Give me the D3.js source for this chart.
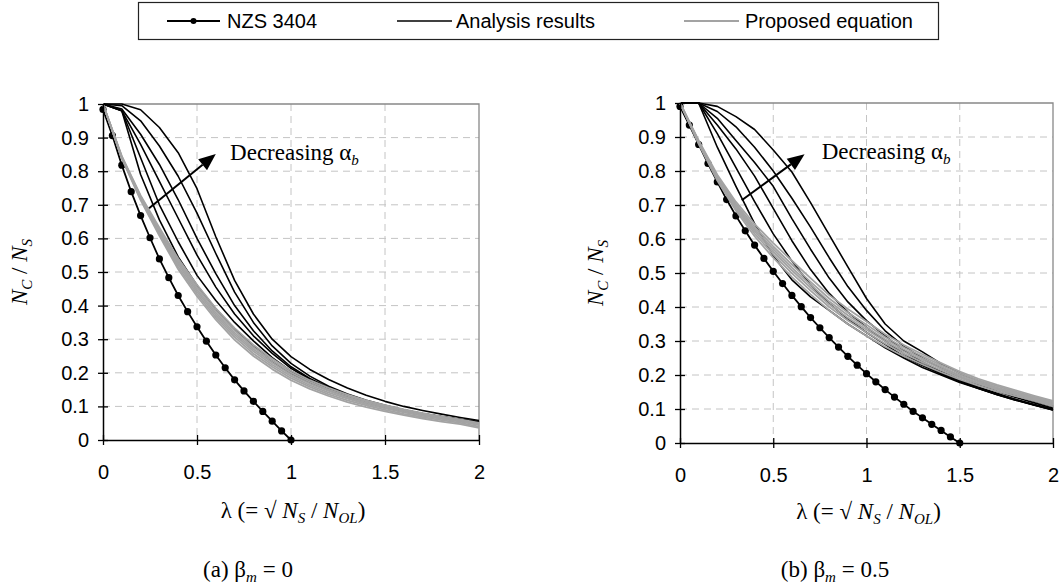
<!DOCTYPE html>
<html><head><meta charset="utf-8">
<script src="https://cdn.jsdelivr.net/npm/d3@7/dist/d3.min.js"></script>
<style>body{margin:0;background:#fff;}</style>
</head><body>
<svg id="chart" width="1063" height="584"></svg>
<script>
// ---------------- DATA ----------------
const lambdaGrid = [0,0.1,0.2,0.3,0.4,0.5,0.6,0.7,0.8,0.9,1.0,1.1,1.2,1.3,1.4,1.5,1.6,1.7,1.8,1.9,2.0];

// (a) beta_m = 0
const nzsLambdaA = [0,0.05,0.1,0.15,0.2,0.25,0.3,0.35,0.4,0.45,0.5,0.55,0.6,0.65,0.7,0.75,0.8,0.85,0.9,0.95,1.0];
const nzsValuesA = [0.984,0.906,0.818,0.739,0.668,0.602,0.539,0.483,0.430,0.382,0.337,0.294,0.253,0.215,0.179,0.146,0.115,0.085,0.056,0.027,0];
const analysisA1 = [1,0.98,0.79,0.655,0.545,0.46,0.39,0.33,0.28,0.235,0.198,0.17,0.148,0.128,0.112,0.098,0.087,0.077,0.068,0.06,0.052];
const analysisA2 = [1,0.98,0.84,0.70,0.59,0.49,0.415,0.35,0.295,0.245,0.205,0.176,0.151,0.131,0.114,0.1,0.088,0.078,0.069,0.061,0.053];
const analysisA3 = [1,0.98,0.88,0.77,0.66,0.55,0.455,0.375,0.31,0.258,0.213,0.18,0.153,0.132,0.115,0.1,0.088,0.078,0.069,0.061,0.053];
const analysisA4 = [1,0.985,0.91,0.82,0.715,0.60,0.495,0.40,0.325,0.265,0.218,0.183,0.156,0.134,0.116,0.101,0.089,0.078,0.069,0.061,0.054];
const analysisA5 = [1,0.995,0.95,0.875,0.785,0.675,0.555,0.44,0.35,0.28,0.228,0.19,0.16,0.137,0.118,0.103,0.09,0.079,0.07,0.062,0.055];
const analysisA6 = [1,1,0.983,0.93,0.855,0.748,0.605,0.475,0.375,0.30,0.248,0.21,0.18,0.155,0.133,0.115,0.1,0.088,0.077,0.067,0.058];
const proposedA1 = [1,0.838,0.714,0.608,0.508,0.428,0.358,0.298,0.250,0.211,0.178,0.152,0.131,0.113,0.098,0.085,0.074,0.064,0.055,0.047,0.036];
const proposedA2 = [1,0.840,0.717,0.613,0.515,0.435,0.365,0.306,0.257,0.218,0.184,0.158,0.136,0.118,0.103,0.090,0.078,0.068,0.059,0.051,0.040];
const proposedA3 = [1,0.841,0.720,0.618,0.522,0.442,0.372,0.313,0.264,0.224,0.190,0.163,0.141,0.123,0.107,0.094,0.082,0.072,0.063,0.055,0.044];
const proposedA4 = [1,0.842,0.722,0.622,0.528,0.448,0.378,0.319,0.270,0.230,0.195,0.168,0.146,0.127,0.111,0.098,0.086,0.075,0.066,0.057,0.047];
const proposedA5 = [1,0.843,0.725,0.627,0.534,0.455,0.385,0.326,0.276,0.236,0.200,0.173,0.150,0.131,0.115,0.101,0.089,0.078,0.068,0.059,0.049];
const proposedA6 = [1,0.845,0.728,0.632,0.540,0.462,0.392,0.333,0.283,0.242,0.206,0.178,0.155,0.135,0.118,0.104,0.091,0.080,0.070,0.061,0.051];

// (b) beta_m = 0.5
const nzsLambdaB = [0,0.05,0.1,0.15,0.2,0.25,0.3,0.35,0.4,0.45,0.5,0.55,0.6,0.65,0.7,0.75,0.8,0.85,0.9,0.95,1.0,1.05,1.1,1.15,1.2,1.25,1.3,1.35,1.4,1.45,1.5];
const nzsValuesB = [0.99,0.935,0.878,0.822,0.768,0.716,0.668,0.624,0.582,0.543,0.505,0.469,0.434,0.401,0.369,0.339,0.310,0.282,0.255,0.229,0.204,0.180,0.157,0.135,0.114,0.093,0.074,0.055,0.037,0.018,0];
const analysisB1 = [1,1,0.87,0.755,0.645,0.55,0.48,0.43,0.39,0.35,0.315,0.28,0.25,0.222,0.20,0.178,0.16,0.143,0.128,0.113,0.10];
const analysisB2 = [1,1,0.91,0.81,0.71,0.615,0.535,0.465,0.41,0.365,0.325,0.29,0.255,0.228,0.203,0.18,0.16,0.142,0.126,0.112,0.098];
const analysisB3 = [1,1,0.935,0.865,0.785,0.69,0.595,0.51,0.44,0.385,0.34,0.30,0.262,0.232,0.206,0.183,0.162,0.143,0.126,0.111,0.097];
const analysisB4 = [1,1,0.955,0.89,0.825,0.755,0.66,0.57,0.485,0.415,0.36,0.315,0.272,0.238,0.21,0.186,0.165,0.146,0.128,0.112,0.097];
const analysisB5 = [1,1,0.975,0.93,0.87,0.80,0.72,0.635,0.545,0.46,0.39,0.33,0.285,0.25,0.22,0.195,0.172,0.152,0.134,0.118,0.102];
const analysisB6 = [1,1,0.99,0.96,0.922,0.862,0.797,0.707,0.612,0.518,0.425,0.35,0.30,0.268,0.233,0.205,0.182,0.16,0.14,0.123,0.107];
const proposedB1 = [1,0.880,0.772,0.683,0.608,0.545,0.488,0.437,0.390,0.350,0.315,0.283,0.255,0.231,0.208,0.187,0.169,0.152,0.138,0.124,0.108];
const proposedB2 = [1,0.882,0.776,0.689,0.616,0.555,0.499,0.448,0.400,0.360,0.325,0.292,0.263,0.238,0.214,0.192,0.174,0.157,0.142,0.127,0.112];
const proposedB3 = [1,0.884,0.779,0.694,0.623,0.563,0.508,0.457,0.408,0.368,0.333,0.299,0.269,0.244,0.219,0.196,0.177,0.160,0.145,0.130,0.115];
const proposedB4 = [1,0.886,0.782,0.698,0.629,0.570,0.516,0.465,0.416,0.376,0.340,0.305,0.275,0.249,0.224,0.200,0.181,0.163,0.148,0.133,0.118];
const proposedB5 = [1,0.888,0.785,0.703,0.636,0.578,0.525,0.474,0.425,0.384,0.348,0.312,0.281,0.255,0.229,0.205,0.185,0.167,0.151,0.136,0.121];
const proposedB6 = [1,0.890,0.789,0.709,0.644,0.588,0.536,0.485,0.435,0.394,0.357,0.320,0.288,0.261,0.235,0.210,0.189,0.171,0.155,0.139,0.124];

const xTickValues = [0,0.5,1,1.5,2];
const xTickLabels = ["0","0.5","1","1.5","2"];
const yTickValues = [0,0.1,0.2,0.3,0.4,0.5,0.6,0.7,0.8,0.9,1];
const yTickLabels = ["0","0.1","0.2","0.3","0.4","0.5","0.6","0.7","0.8","0.9","1"];
const legendLabels = ["NZS 3404","Analysis results","Proposed equation"];

// ---------------- DRAW ----------------
const SANS = "'Liberation Sans', Arial, sans-serif";
const SERIF = "'Liberation Serif', 'Times New Roman', serif";
const svg = d3.select("#chart");
svg.append("rect").attr("width",1063).attr("height",584).attr("fill","#fff");

const panels = [
  {left:103, right:479, top:104, bottom:440,
   nzsL:nzsLambdaA, nzsV:nzsValuesA,
   analysis:[analysisA1,analysisA2,analysisA3,analysisA4,analysisA5,analysisA6],
   proposed:[proposedA1,proposedA2,proposedA3,proposedA4,proposedA5,proposedA6],
   yTitleX:27, xTitleY:518, capX:248, capLetter:"(a) β", capVal:" = 0",
   arrowFrom:[0.245,0.69], arrowTo:[0.6,0.851], annoAt:[0.676,0.833]},
  {left:680, right:1053, top:103, bottom:443,
   nzsL:nzsLambdaB, nzsV:nzsValuesB,
   analysis:[analysisB1,analysisB2,analysisB3,analysisB4,analysisB5,analysisB6],
   proposed:[proposedB1,proposedB2,proposedB3,proposedB4,proposedB5,proposedB6],
   yTitleX:603, xTitleY:519, capX:835, capLetter:"(b) β", capVal:" = 0.5",
   arrowFrom:[0.331,0.714], arrowTo:[0.668,0.849], annoAt:[0.76,0.834]}
];

panels.forEach(p => {
  const g = svg.append("g");
  const x = d3.scaleLinear().domain([0,2]).range([p.left,p.right]);
  const y = d3.scaleLinear().domain([0,1]).range([p.bottom,p.top]);

  g.selectAll(".hg").data(yTickValues.filter(v => v>0 && v<1)).join("line")
    .attr("x1",p.left).attr("x2",p.right).attr("y1",d=>y(d)).attr("y2",d=>y(d))
    .attr("stroke","#c4c4c4").attr("stroke-width",1).attr("stroke-dasharray","7,5");
  g.selectAll(".vg").data(xTickValues.filter(v => v>0 && v<2)).join("line")
    .attr("y1",p.top).attr("y2",p.bottom).attr("x1",d=>x(d)).attr("x2",d=>x(d))
    .attr("stroke","#c4c4c4").attr("stroke-width",1).attr("stroke-dasharray","7,5");
  g.append("path").attr("d",`M${p.left},${y(1)}H${p.right}V${p.bottom}`)
    .attr("fill","none").attr("stroke","#888").attr("stroke-width",1.3);

  const line = d3.line().x(d=>x(d[0])).y(d=>y(d[1]));
  const nzs = p.nzsL.map((l,i)=>[l,p.nzsV[i]]);
  g.append("path").attr("d",line(nzs)).attr("fill","none").attr("stroke","#000").attr("stroke-width",1.8);
  g.selectAll(".dot").data(nzs).join("circle").attr("cx",d=>x(d[0])).attr("cy",d=>y(d[1]))
    .attr("r",3.6).attr("fill","#000");
  p.analysis.forEach(arr => {
    g.append("path").attr("d",line(lambdaGrid.map((l,i)=>[l,arr[i]])))
      .attr("fill","none").attr("stroke","#000").attr("stroke-width",1.6).attr("stroke-linejoin","round");
  });
  p.proposed.forEach(arr => {
    g.append("path").attr("d",line(lambdaGrid.map((l,i)=>[l,arr[i]])))
      .attr("fill","none").attr("stroke","#a3a3a3").attr("stroke-width",1.8).attr("stroke-linejoin","round");
  });

  const ya = d3.axisLeft(y).tickValues(yTickValues).tickFormat((d,i)=>yTickLabels[i])
    .tickSizeInner(5).tickSizeOuter(0).tickPadding(9);
  const gy = g.append("g").attr("transform",`translate(${p.left},0)`).call(ya);
  gy.selectAll(".tick line").attr("x1",5).attr("stroke","#000").attr("stroke-width",1.3);
  gy.select(".domain").attr("stroke","#000").attr("stroke-width",1.5);
  gy.selectAll("text").attr("font-family",SANS).attr("font-size",20).attr("fill","#000");

  const xa = d3.axisBottom(x).tickValues(xTickValues).tickFormat((d,i)=>xTickLabels[i])
    .tickSizeInner(5).tickSizeOuter(0).tickPadding(20);
  const gx = g.append("g").attr("transform",`translate(0,${p.bottom})`).call(xa);
  gx.selectAll(".tick line").attr("y1",-5).attr("stroke","#000").attr("stroke-width",1.3);
  gx.select(".domain").attr("stroke","#000").attr("stroke-width",1.5);
  gx.selectAll("text").attr("font-family",SANS).attr("font-size",20).attr("fill","#000");

  const yt = g.append("text").attr("transform",`translate(${p.yTitleX},${(p.top+p.bottom)/2}) rotate(-90)`)
    .attr("text-anchor","middle").attr("font-family",SERIF).attr("font-size",23);
  yt.append("tspan").attr("font-style","italic").text("N");
  yt.append("tspan").attr("font-style","italic").attr("font-size",15).attr("dy",5).text("C");
  yt.append("tspan").attr("dy",-5).text(" / ");
  yt.append("tspan").attr("font-style","italic").text("N");
  yt.append("tspan").attr("font-style","italic").attr("font-size",15).attr("dy",5).text("S");

  const xt = g.append("text").attr("x",x(1)+2).attr("y",p.xTitleY)
    .attr("text-anchor","middle").attr("font-family",SERIF).attr("font-size",23);
  xt.append("tspan").text("λ (= √ ");
  xt.append("tspan").attr("font-style","italic").text("N");
  xt.append("tspan").attr("font-style","italic").attr("font-size",15).attr("dy",5).text("S");
  xt.append("tspan").attr("dy",-5).text(" / ");
  xt.append("tspan").attr("font-style","italic").text("N");
  xt.append("tspan").attr("font-style","italic").attr("font-size",15).attr("dy",5).text("OL");
  xt.append("tspan").attr("dy",-5).text(")");

  const cp = g.append("text").attr("x",p.capX).attr("y",577)
    .attr("text-anchor","middle").attr("font-family",SERIF).attr("font-size",23);
  cp.append("tspan").text(p.capLetter);
  cp.append("tspan").attr("font-style","italic").attr("font-size",15).attr("dy",5).text("m");
  cp.append("tspan").attr("dy",-5).text(p.capVal);

  const x0 = x(p.arrowFrom[0]), y0 = y(p.arrowFrom[1]);
  const x1 = x(p.arrowTo[0]), y1 = y(p.arrowTo[1]);
  const ang = Math.atan2(y1-y0, x1-x0);
  const hl = 17, hw = 7;
  const bx = x1 - hl*Math.cos(ang), by = y1 - hl*Math.sin(ang);
  g.append("line").attr("x1",x0).attr("y1",y0).attr("x2",bx).attr("y2",by)
    .attr("stroke","#000").attr("stroke-width",2);
  g.append("path").attr("d",`M${x1},${y1}L${bx - hw*Math.sin(ang)},${by + hw*Math.cos(ang)}L${bx + hw*Math.sin(ang)},${by - hw*Math.cos(ang)}Z`)
    .attr("fill","#000");
  const an = g.append("text").attr("x",x(p.annoAt[0])).attr("y",y(p.annoAt[1]))
    .attr("font-family",SERIF).attr("font-size",23);
  an.append("tspan").text("Decreasing α");
  an.append("tspan").attr("font-style","italic").attr("font-size",15).attr("dy",5).text("b");
});

// ---------------- LEGEND ----------------
const lg = svg.append("g");
lg.append("rect").attr("x",138.5).attr("y",2.5).attr("width",800).attr("height",37)
  .attr("fill","#fff").attr("stroke","#222").attr("stroke-width",1.2);
const legendItems = [
  {x1:167, x2:220, text:227, color:"#000", w:1.8, dot:true},
  {x1:397, x2:452, text:456, color:"#000", w:1.6, dot:false},
  {x1:684, x2:739, text:745, color:"#a3a3a3", w:1.8, dot:false}
];
legendItems.forEach((it,i) => {
  lg.append("line").attr("x1",it.x1).attr("x2",it.x2).attr("y1",21).attr("y2",21)
    .attr("stroke",it.color).attr("stroke-width",it.w);
  if (it.dot) lg.append("circle").attr("cx",(it.x1+it.x2)/2).attr("cy",21).attr("r",3).attr("fill","#000");
  lg.append("text").attr("x",it.text).attr("y",28).attr("font-family",SANS).attr("font-size",20)
    .attr("fill","#000").text(legendLabels[i]);
});
</script>
</body></html>
